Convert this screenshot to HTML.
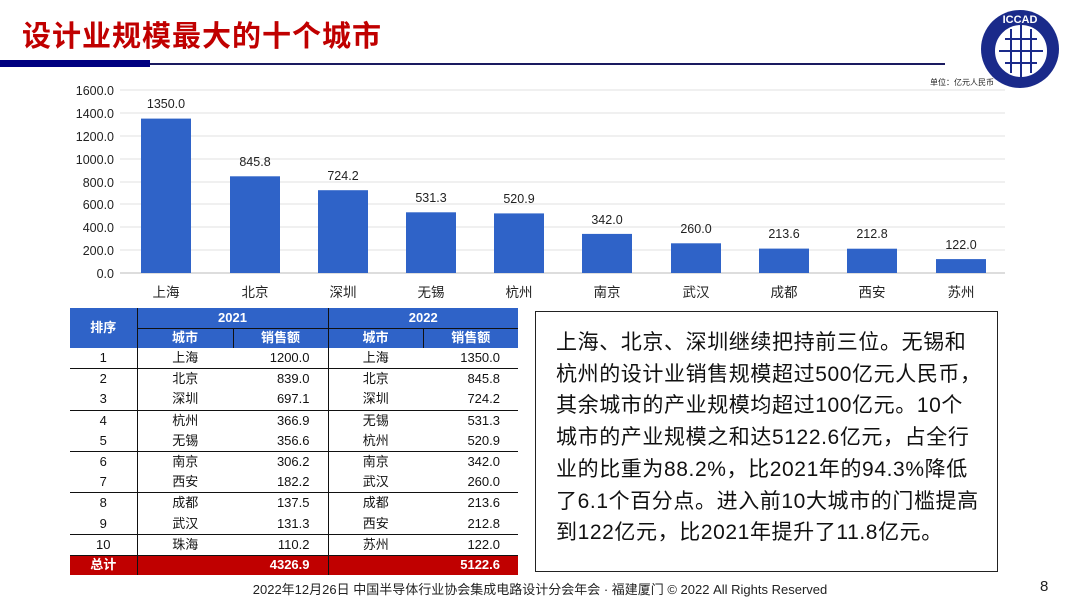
<!DOCTYPE html>
<html><head><meta charset="utf-8"><style>
body{margin:0;width:1080px;height:607px;background:#fff;position:relative;overflow:hidden;font-family:"Liberation Sans","Noto Sans CJK SC",sans-serif;}
.a{position:absolute;}
table{border-collapse:collapse;position:absolute;left:70px;top:308px;font-size:13px;table-layout:fixed;}
td{padding:0;height:20.2px;line-height:14px;text-align:center;color:#111;}
.h td{background:#2f63c8;color:#fff;font-weight:bold;height:19.5px;}
.r{text-align:right;padding-right:18px;}
.t td{background:#c00000;color:#fff;font-weight:bold;height:19px;}
</style></head><body>
<div class="a" style="left:22px;top:13px;font-size:29px;font-weight:bold;color:#c00000;letter-spacing:1px">设计业规模最大的十个城市</div>
<div class="a" style="left:0;top:60px;width:150px;height:7px;background:#000080"></div>
<div class="a" style="left:150px;top:63px;width:795px;height:2px;background:#1a1a60"></div>
<svg class="a" style="left:975px;top:5px" width="90" height="85" viewBox="0 0 90 85">
<circle cx="45" cy="44" r="39" fill="#1a2a8a"/><circle cx="46" cy="46" r="27" fill="#fff" stroke="#1a2a8a" stroke-width="2"/>
<g stroke="#1a2a8a" stroke-width="2"><line x1="30" y1="34" x2="62" y2="34"/><line x1="24" y1="46" x2="68" y2="46"/><line x1="30" y1="58" x2="62" y2="58"/><line x1="36" y1="24" x2="36" y2="68"/><line x1="46" y1="20" x2="46" y2="72"/><line x1="56" y1="24" x2="56" y2="68"/></g>
<text x="45" y="18" fill="#fff" font-size="11" text-anchor="middle" font-weight="bold">ICCAD</text></svg>
<div class="a" style="left:930px;top:77px;font-size:8px;color:#222">单位：亿元人民币</div>
<svg class="a" style="left:0;top:0" width="1080" height="300">
<g font-size="12.5" fill="#222" text-anchor="end">
<text x="114" y="95">1600.0</text><text x="114" y="118">1400.0</text><text x="114" y="141">1200.0</text><text x="114" y="164">1000.0</text><text x="114" y="187">800.0</text><text x="114" y="209">600.0</text><text x="114" y="232">400.0</text><text x="114" y="255">200.0</text><text x="114" y="278">0.0</text></g>
<g stroke="#e0e0e0"><line x1="120" y1="90" x2="1005" y2="90"/><line x1="120" y1="113" x2="1005" y2="113"/><line x1="120" y1="136" x2="1005" y2="136"/><line x1="120" y1="159" x2="1005" y2="159"/><line x1="120" y1="182" x2="1005" y2="182"/><line x1="120" y1="204" x2="1005" y2="204"/><line x1="120" y1="227" x2="1005" y2="227"/><line x1="120" y1="250" x2="1005" y2="250"/><line x1="120" y1="273" x2="1005" y2="273" stroke="#bbb"/></g>
<g fill="#2f63c8">
<rect x="141" y="118.6" width="50" height="154.4"/><rect x="230" y="176.3" width="50" height="96.7"/><rect x="318" y="190.2" width="50" height="82.8"/><rect x="406" y="212.3" width="50" height="60.7"/><rect x="494" y="213.4" width="50" height="59.6"/><rect x="582" y="233.9" width="50" height="39.1"/><rect x="671" y="243.3" width="50" height="29.7"/><rect x="759" y="248.6" width="50" height="24.4"/><rect x="847" y="248.7" width="50" height="24.3"/><rect x="936" y="259.1" width="50" height="13.9"/></g>
<g font-size="12.5" fill="#222" text-anchor="middle">
<text x="166" y="108">1350.0</text><text x="255" y="166">845.8</text><text x="343" y="180">724.2</text><text x="431" y="202">531.3</text><text x="519" y="203">520.9</text><text x="607" y="224">342.0</text><text x="696" y="233">260.0</text><text x="784" y="238">213.6</text><text x="872" y="238">212.8</text><text x="961" y="249">122.0</text></g>
<g font-size="13.5" fill="#222" text-anchor="middle">
<text x="166" y="297">上海</text><text x="255" y="297">北京</text><text x="343" y="297">深圳</text><text x="431" y="297">无锡</text><text x="519" y="297">杭州</text><text x="607" y="297">南京</text><text x="696" y="297">武汉</text><text x="784" y="297">成都</text><text x="872" y="297">西安</text><text x="961" y="297">苏州</text></g>
</svg>
<table>
<colgroup><col style="width:67px"><col style="width:96px"><col style="width:95px"><col style="width:95px"><col style="width:95px"></colgroup>
<tr class="h"><td rowspan="2" style="border-right:1px solid #111">排序</td><td colspan="2" style="border-bottom:1px solid #111;border-right:1px solid #111">2021</td><td colspan="2" style="border-bottom:1px solid #111">2022</td></tr>
<tr class="h"><td style="border-right:1px solid #111">城市</td><td style="border-right:1px solid #111">销售额</td><td style="border-right:1px solid #111">城市</td><td>销售额</td></tr>
<tr style="border-bottom:1px solid #111"><td style="border-right:1px solid #111">1</td><td>上海</td><td class="r" style="border-right:1px solid #111">1200.0</td><td>上海</td><td class="r">1350.0</td></tr>
<tr><td style="border-right:1px solid #111">2</td><td>北京</td><td class="r" style="border-right:1px solid #111">839.0</td><td>北京</td><td class="r">845.8</td></tr>
<tr style="border-bottom:1px solid #111"><td style="border-right:1px solid #111">3</td><td>深圳</td><td class="r" style="border-right:1px solid #111">697.1</td><td>深圳</td><td class="r">724.2</td></tr>
<tr><td style="border-right:1px solid #111">4</td><td>杭州</td><td class="r" style="border-right:1px solid #111">366.9</td><td>无锡</td><td class="r">531.3</td></tr>
<tr style="border-bottom:1px solid #111"><td style="border-right:1px solid #111">5</td><td>无锡</td><td class="r" style="border-right:1px solid #111">356.6</td><td>杭州</td><td class="r">520.9</td></tr>
<tr><td style="border-right:1px solid #111">6</td><td>南京</td><td class="r" style="border-right:1px solid #111">306.2</td><td>南京</td><td class="r">342.0</td></tr>
<tr style="border-bottom:1px solid #111"><td style="border-right:1px solid #111">7</td><td>西安</td><td class="r" style="border-right:1px solid #111">182.2</td><td>武汉</td><td class="r">260.0</td></tr>
<tr><td style="border-right:1px solid #111">8</td><td>成都</td><td class="r" style="border-right:1px solid #111">137.5</td><td>成都</td><td class="r">213.6</td></tr>
<tr style="border-bottom:1px solid #111"><td style="border-right:1px solid #111">9</td><td>武汉</td><td class="r" style="border-right:1px solid #111">131.3</td><td>西安</td><td class="r">212.8</td></tr>
<tr style="border-bottom:1px solid #111"><td style="border-right:1px solid #111">10</td><td>珠海</td><td class="r" style="border-right:1px solid #111">110.2</td><td>苏州</td><td class="r">122.0</td></tr>
<tr class="t"><td style="border-right:1px solid #111">总计</td><td></td><td class="r" style="border-right:1px solid #111">4326.9</td><td></td><td class="r">5122.6</td></tr>
</table>
<div class="a" style="left:535px;top:311px;width:463px;height:261px;border:1px solid #222;box-sizing:border-box"></div>
<div class="a" style="left:556px;top:327px;font-size:21px;letter-spacing:0.6px;line-height:31.7px;color:#111;white-space:nowrap">上海、北京、深圳继续把持前三位。无锡和<br>杭州的设计业销售规模超过500亿元人民币，<br>其余城市的产业规模均超过100亿元。10个<br>城市的产业规模之和达5122.6亿元，占全行<br>业的比重为88.2%，比2021年的94.3%降低<br>了6.1个百分点。进入前10大城市的门槛提高<br>到122亿元，比2021年提升了11.8亿元。</div>
<div class="a" style="left:0;width:1080px;top:579px;text-align:center;font-size:13px;color:#222">2022年12月26日 中国半导体行业协会集成电路设计分会年会 · 福建厦门 © 2022 All Rights Reserved</div>
<div class="a" style="left:1040px;top:578px;font-size:15px;color:#222">8</div>
</body></html>
